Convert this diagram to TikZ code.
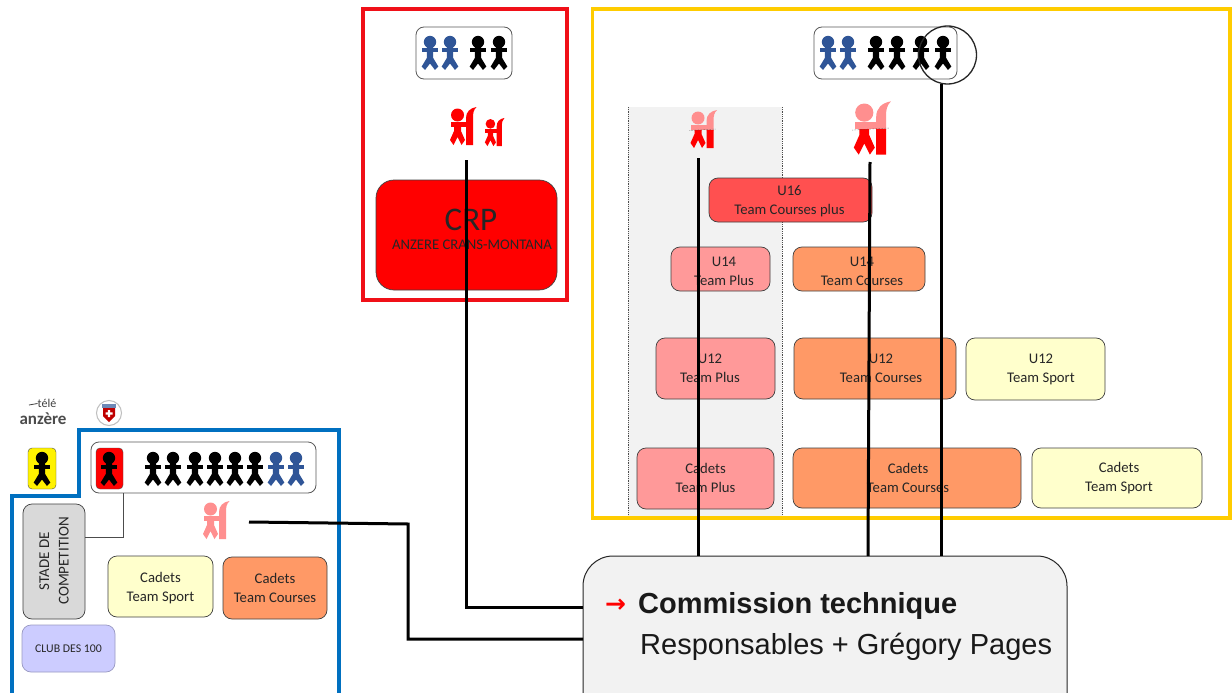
\documentclass[tikz,border=0pt]{standalone}
\usepackage{fontspec}
\setmainfont{Carlito}
\newfontfamily\arialf{Liberation Sans}
\newfontfamily\symf{DejaVu Sans}
\definecolor{frameblue}{HTML}{0070C0}
\definecolor{framegold}{HTML}{FFCC00}
\definecolor{framered}{HTML}{F01018}
\definecolor{pblue}{HTML}{2F5597}
\definecolor{tred}{HTML}{FF5050}
\definecolor{tpink}{HTML}{FF9999}
\definecolor{torange}{HTML}{FF9966}
\definecolor{tyellow}{HTML}{FFFFCC}
\definecolor{sk}{HTML}{FF8F8F}
\tikzset{
 x=1pt,y=-1pt,
 teambox/.style={draw=black!75,line width=.7pt,rounded corners=9pt,inner sep=0pt,outer sep=0pt},
 teamtext/.style={align=center,inner sep=0pt,font=\fontsize{14.7}{19}\selectfont,text=black!85},
 groupbox/.style={draw=black!65,line width=.8pt,rounded corners=8pt,fill=white},
 frameline/.style={line width=3.3pt},
 link/.style={line width=3pt,black},
 thinlink/.style={line width=.8pt,black!70},
}
% name x1 y1 x2 y2 fill text dx dy
\newcommand{\tbox}[9]{%
 \pgfmathsetmacro{\bxc}{(#2+#4)/2}\pgfmathsetmacro{\byc}{(#3+#5)/2}%
 \pgfmathsetmacro{\bxw}{#4-#2}\pgfmathsetmacro{\byh}{#5-#3}%
 \node[teambox,fill=#6,minimum width=\bxw pt,minimum height=\byh pt] (#1) at (\bxc,\byc) {};
 \node[teamtext] (#1txt) at ([shift={(#8,#9)}]#1.center) {#7};}
% x y colour
\newcommand{\person}[3]{%
 \begin{scope}[shift={(#1,#2)}]
 \fill[#3] (0,-11) circle (6.2);
 \fill[#3] (-8.3,-4.5) rectangle (8.3,-0.5);
 \fill[#3] (-3.2,-8) -- (3.2,-8) -- (3.2,5) -- (8.3,13.5) -- (5,17) -- (0,10.5) -- (-5,17) -- (-8.3,13.5) -- (-3.2,5) -- cycle;
 \end{scope}}
\newcommand{\skshape}[1]{%
 \fill[#1] (-5.5,-11) circle (6.5);
 \fill[#1] (-12.5,-4) rectangle (5,1);
 \fill[#1] (-9,-4) -- (-2,-4) -- (-2,5) -- (2,14) -- (-1.5,19) -- (-5.5,11) -- (-9.5,19) -- (-13,14) -- (-9,5) -- cycle;
 \fill[#1] (3,19) -- (10,19) -- (10,-8) .. controls (10,-13) and (10.5,-16) .. (13.5,-19) .. controls (7,-18) and (3,-14) .. (3,-8) -- cycle;}
% name x y scale colour
\newcommand{\skier}[5]{%
 \begin{scope}[shift={(#2,#3)},scale=#4]
 \skshape{#5}
 \end{scope}\coordinate (#1) at (#2,#3);}
% name x y scale top bottom
\newcommand{\splitskier}[6]{%
 \begin{scope}[shift={(#2,#3)},scale=#4]
 \begin{scope}\clip (-20,-22) rectangle (16,1);\skshape{#5}\end{scope}
 \begin{scope}\clip (-20,1) rectangle (16,22);\skshape{#6}\end{scope}
 \draw[black!70,line width=.5pt,densely dotted] (-14,1.5) -- (12,0);
 \end{scope}\coordinate (#1) at (#2,#3);}
\begin{document}
\begin{tikzpicture}
\useasboundingbox (0,0) rectangle (1232,693);
\clip (0,0) rectangle (1232,693);
\fill[white] (0,0) rectangle (1232,693);
% frames
\draw[frameline,framered] (363,9) rectangle (567,300);
\fill[black!5] (628,107) rectangle (782,516);
\draw[black!70,densely dotted,line width=.8pt] (628,107) -- (628,516) (782,107) -- (782,516);
\draw[frameline,framegold] (592.5,9) rectangle (1230,518);
\draw[frameline,frameblue] (12,700) -- (12,496) -- (79,496) -- (79,430) -- (339,430) -- (339,700);
% logos
\node[inner sep=0pt,font=\fontsize{12}{12}\selectfont,text=black!75] (tele) at (47,403.5) {télé};
\draw[black!75,line width=.8pt] (29,405) -- (tele.west);
\node[inner sep=0pt,font=\fontsize{17}{15}\selectfont\bfseries,text=black!70] (anzere) at (43,419) {anzère};
\draw[black!25,line width=1pt,fill=white] (109,413) circle (12.5);
\fill[red!75!black] (103,408) -- (115,408) -- (115,416) -- (109,422) -- (103,416) -- cycle;
\fill[pblue!70] (102,404) rectangle (116,408);
\fill[white] (107.8,410) rectangle (110.2,417) (105.5,412.3) rectangle (112.5,414.7);
% right team boxes
\tbox{ufsix}{709}{178}{872}{222}{tred}{U16\\Team Courses plus}{-1}{1.5}
\tbox{ufourp}{671}{247}{770}{291}{tpink}{U14\\Team Plus}{3.5}{2.5}
\tbox{ufourc}{793}{247}{925}{291}{torange}{U14\\Team Courses}{3}{2.5}
\tbox{utwop}{656}{338}{775}{399}{tpink}{U12\\Team Plus}{-5.5}{0}
\tbox{utwoc}{794}{338}{956}{399}{torange}{U12\\Team Courses}{6}{0}
\tbox{utwos}{966}{338}{1105}{400}{tyellow}{U12\\Team Sport}{5.5}{0}
\tbox{cadp}{637}{448}{774}{509}{tpink}{Cadets\\Team Plus}{0}{-1}
\tbox{cadc}{793}{448}{1021}{508}{torange}{Cadets\\Team Courses}{1}{0}
\tbox{cads}{1032}{448}{1202}{508}{tyellow}{Cadets\\Team Sport}{2}{0}
% CRP
\node[teambox,fill=red,minimum width=181pt,minimum height=110pt,rounded corners=18pt] (crp) at (466.5,235) {};
\node[inner sep=0pt,font=\fontsize{33}{33}\selectfont,text=black!85] (crptitle) at (471,220) {CRP};
\node[inner sep=0pt,font=\fontsize{14.7}{14}\selectfont,text=black!85] (crpsub) at (472,245) {ANZERE CRANS-MONTANA};
% groups
\draw[groupbox] (416,27) rectangle (512,79);
\person{430}{53}{pblue}\person{450}{53}{pblue}\person{478}{53}{black}\person{499}{53}{black}
\draw[groupbox] (814,27) rectangle (957,79);
\person{828}{53}{pblue}\person{848}{53}{pblue}\person{876}{53}{black}\person{897}{53}{black}\person{921}{53}{black}\person{943}{53}{black}
\node[draw=black!85,line width=1.3pt,circle,minimum size=58pt,inner sep=0pt,outer sep=0pt] (ring) at (947.5,55) {};
% skiers
\skier{skA}{463}{126}{1}{red}
\skier{skB}{494.5}{132}{.74}{red}
\splitskier{skC}{703.5}{129}{1}{sk}{red}
\splitskier{skD}{872}{128}{1.4}{sk}{red}
% left block
\draw[groupbox] (91,442) rectangle (316,493);
\node[draw=black!70,fill=red,rounded corners=4pt,minimum width=27pt,minimum height=41pt,inner sep=0pt] (redtile) at (109.5,468.5) {};
\person{109}{469}{black}
\node[draw=black!70,fill=yellow,rounded corners=4pt,minimum width=28pt,minimum height=41pt,inner sep=0pt] (yelltile) at (42,468.5) {};
\person{42}{469}{black}
\person{153}{469}{black}\person{173}{469}{black}\person{195}{469}{black}\person{215}{469}{black}\person{235}{469}{black}\person{255}{469}{black}
\person{276}{469}{pblue}\person{296}{469}{pblue}
\skier{skE}{216}{520}{1}{sk}
\tbox{lcads}{108}{556}{213}{617}{tyellow}{Cadets\\Team Sport}{0}{1.5}
\tbox{lcadc}{223}{557}{327}{619}{torange}{Cadets\\Team Courses}{0}{0}
\node[teambox,fill=black!15,minimum width=62pt,minimum height=115pt] (stade) at (54,561.5) {};
\node[rotate=90,inner sep=0pt,align=center,font=\fontsize{15}{19.5}\selectfont,text=black!85] (stadetxt) at (54,561) {STADE DE\\COMPETITION};
\node[draw=blue!40!black!40,fill=blue!20,rounded corners=9pt,line width=.7pt,minimum width=93pt,minimum height=47pt,inner sep=0pt,font=\fontsize{11.8}{12}\selectfont,text=black!85] (club) at (68.5,648.5) {CLUB DES 100};
\coordinate (tileanchor) at (123,493);
\coordinate (stadein) at (stade.east |- 0,537);
\draw[thinlink] (tileanchor) |- (stadein);
% commission
\node[draw=black!85,fill=black!5,line width=1pt,rounded corners=30pt,minimum width=484pt,minimum height=170pt,inner sep=0pt,outer sep=0pt] (comm) at (825,641) {};
\node[inner sep=0pt,anchor=west,text=red,font=\symf\bfseries\fontsize{25}{25}\selectfont] (arrowmark) at (605,606) {→};
\node[inner sep=0pt,anchor=west,font=\arialf\bfseries\fontsize{29}{29}\selectfont,text=black!90] (commA) at (638,606) {Commission technique};
\node[inner sep=0pt,anchor=west,font=\arialf\fontsize{29}{29}\selectfont,text=black!90] (commB) at (640,647) {Responsables + Grégory Pages};
% connectors
\coordinate (cA) at (comm.west |- 0,607);
\coordinate (cB) at (comm.west |- 0,639);
\coordinate (tC) at (698,158);
\coordinate (tD) at (870,162);
\coordinate (tA) at (466,160);
\coordinate (tE) at (249,522);
\draw[link] (tA) -- (466,607) -- (cA);
\draw[link] (tE) -- (408,524) -- (408,639) -- (cB);
\draw[link] (tC) -- (698,556);
\draw[link] (tD) -- (868,556);
\draw[link] (ring.south -| 941,0) -- (941,556);
\end{tikzpicture}
\end{document}
